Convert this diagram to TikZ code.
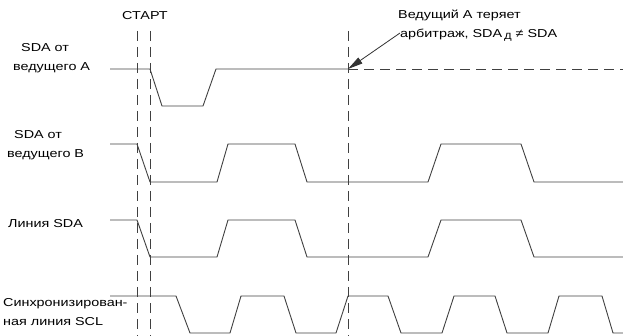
\documentclass[tikz,border=0pt]{standalone}
\usepackage{fontspec}
\setmainfont{Liberation Sans}
\newfontfamily\lblfont[FakeStretch=1.25]{Liberation Sans}
\usetikzlibrary{arrows.meta}
\begin{document}
\begin{tikzpicture}[x=1pt,y=-1pt,
  wave/.style={line width=0.9pt,draw=black!75,line join=miter},
  guide/.style={line width=0.9pt,draw=black!75,dash pattern=on 10pt off 6pt},
  lbl/.style={anchor=west,inner sep=0pt,font=\lblfont\fontsize{11.5}{13}\selectfont,text=black}]
\useasboundingbox (0,0) rectangle (623,336);
% guides
\draw[guide] (137,31) -- (137,336);
\draw[guide] (150,31) -- (150,336);
\draw[guide] (348,31) -- (348,336);
% SDA from master A
\draw[wave] (110,69) -- (150,69) -- (162,106) -- (203,106) -- (216,69) -- (348,69);
\draw[guide] (348,69) -- (623,69);
% SDA from master B
\draw[wave] (110,144) -- (137,144) -- (150,182) -- (217,182) -- (228,144) -- (295,144) -- (307,182)
  -- (428,182) -- (441,144) -- (521,144) -- (534,182) -- (623,182);
% SDA line
\draw[wave] (110,220) -- (137,220) -- (150,257) -- (217,257) -- (228,220) -- (295,220) -- (307,257)
  -- (428,257) -- (441,220) -- (521,220) -- (534,257) -- (623,257);
% SCL
\draw[wave] (110,296) -- (176,296) -- (190,333) -- (230,333) -- (241,296) -- (284,296) -- (296,333)
  -- (336,333) -- (348,296) -- (388,296) -- (401,333) -- (442,333) -- (454,296) -- (495,296)
  -- (507,333) -- (548,333) -- (559,296) -- (602,296) -- (613,333) -- (623,333);
% labels
\node[lbl] (start) at (122,16) {СТАРТ};
\node[lbl] (a1) at (21,48) {SDA от};
\node[lbl] (a2) at (13,68) {ведущего A};
\node[lbl] (b1) at (14,135) {SDA от};
\node[lbl] (b2) at (7,155) {ведущего B};
\node[lbl] (sda) at (8,224) {Линия SDA};
\node[lbl] (scl1) at (3,304) {Синхронизирован-};
\node[lbl] (scl2) at (3,322) {ная линия SCL};
\node[lbl] (n1) at (398,15) {Ведущий A теряет};
\node[lbl] (n2) at (400,35) {арбитраж, SDA\,\raisebox{-2.5pt}{\fontsize{9}{10}\selectfont Д} ≠ SDA};
\coordinate (loss) at (348,69);
\draw[line width=0.8pt,draw=black!80,-{Triangle[length=15pt,width=7pt]}] (n2.west) ++(0,-2) -- (loss);
\end{tikzpicture}
\end{document}
